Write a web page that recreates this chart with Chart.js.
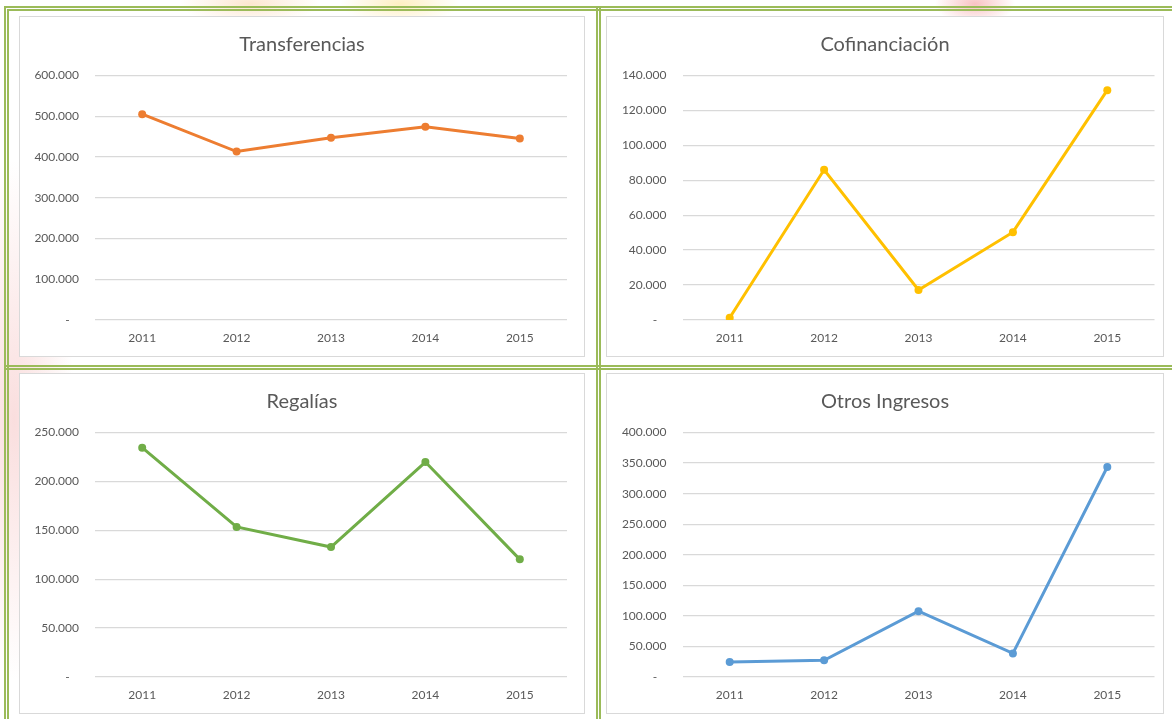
<!DOCTYPE html>
<html>
<head>
<meta charset="utf-8">
<script src="https://cdn.jsdelivr.net/npm/chart.js@4"></script>
<style>
  html, body { margin: 0; padding: 0; }
  body {
    width: 1172px; height: 719px; overflow: hidden; position: relative;
    background:
      radial-gradient(ellipse 60px 260px at 14px 420px, rgba(240,160,160,0.35), rgba(255,255,255,0) 100%),
      radial-gradient(ellipse 70px 20px at 250px 4px, rgba(250,200,150,0.45), rgba(255,255,255,0) 100%),
      radial-gradient(ellipse 60px 20px at 400px 4px, rgba(255,220,120,0.45), rgba(255,255,255,0) 100%),
      radial-gradient(ellipse 40px 20px at 975px 4px, rgba(240,120,120,0.45), rgba(255,255,255,0) 100%),
      #ffffff;
    font-family: Lato, "Open Sans", sans-serif;
  }
  .frame { position: absolute; left: 4px; top: 6px; width: 1180px; height: 720px; border: 5px double #9bbb59; box-sizing: border-box; }
  .vline { position: absolute; left: 596px; top: 6px; width: 0; height: 720px; border-left: 5px double #9bbb59; }
  .hline { position: absolute; left: 4px; top: 365px; width: 1180px; height: 0; border-top: 5px double #9bbb59; }
  .panel { position: absolute; background: #ffffff; border: 1px solid #d9d9d9; }
  .panel canvas { display: block; }
</style>
</head>
<body>
<div class="frame"></div>
<div class="vline"></div>
<div class="hline"></div>

<div class="panel" style="left:19px; top:16px;"><canvas id="transferencias" width="564" height="339"></canvas></div>
<div class="panel" style="left:606px; top:16px;"><canvas id="cofinanciacion" width="556" height="339"></canvas></div>
<div class="panel" style="left:19px; top:373px;"><canvas id="regalias" width="564" height="339"></canvas></div>
<div class="panel" style="left:606px; top:373px;"><canvas id="otros" width="556" height="339"></canvas></div>

<script>
const years = ['2011', '2012', '2013', '2014', '2015'];
const transferencias = [505200, 413300, 447000, 474000, 445200];
const cofinanciacion = [1300, 86000, 17200, 50300, 131600];
const regalias = [234500, 153400, 132900, 219800, 120300];
const otrosIngresos = [24600, 27200, 107700, 38600, 343500];

const textColor = '#595959';
const font = 'Lato, "Open Sans", sans-serif';

function fmt(v) {
  if (v === 0) return '-   ';
  return String(v).replace(/\B(?=(\d{3})+(?!\d))/g, '.');
}

function makeChart(id, title, values, color, max, step, side) {
  // left-hand panels are wider, so the plot keeps a larger right margin
  const rightGap = side === 'left' ? 17 : 8.5;
  const axisWidth = side === 'left' ? 75 : 75.5;
  new Chart(document.getElementById(id), {
    type: 'line',
    data: {
      labels: years,
      datasets: [{
        data: values,
        borderColor: color,
        backgroundColor: color,
        borderWidth: 3,
        pointRadius: 4,
        pointBorderWidth: 0,
        pointBackgroundColor: color,
        tension: 0
      }]
    },
    options: {
      responsive: false,
      animation: false,
      layout: { padding: 0 },
      plugins: {
        legend: { display: false },
        tooltip: { enabled: false },
        title: {
          display: true,
          text: title,
          color: textColor,
          font: { family: font, size: 20, weight: 'normal' },
          padding: { top: 16, bottom: 18.5 }
        }
      },
      scales: {
        x: {
          offset: true,
          grid: { display: false, drawTicks: false },
          border: { display: false },
          ticks: { color: textColor, font: { family: font, size: 12 }, padding: 11 },
          afterFit: s => { s.height = 36; }
        },
        y: {
          min: 0,
          max: max,
          grid: { color: '#d9d9d9', lineWidth: 1.3, drawTicks: false },
          border: { display: false },
          ticks: {
            stepSize: step,
            color: textColor,
            font: { family: font, size: 12 },
            padding: 16,
            callback: v => fmt(v)
          },
          afterFit: s => { s.width = axisWidth; }
        },
        // empty axis that only holds the right margin, so the title stays centred
        gap: {
          position: 'right',
          grid: { display: false, drawTicks: false },
          border: { display: false },
          ticks: { display: false },
          afterFit: s => { s.width = rightGap; }
        }
      }
    }
  });
}

makeChart('transferencias', 'Transferencias', transferencias, '#ed7d31', 600000, 100000, 'left');
makeChart('cofinanciacion', 'Cofinanciación', cofinanciacion, '#ffc000', 140000, 20000, 'right');
makeChart('regalias', 'Regalías', regalias, '#70ad47', 250000, 50000, 'left');
makeChart('otros', 'Otros Ingresos', otrosIngresos, '#5b9bd5', 400000, 50000, 'right');
</script>
</body>
</html>
